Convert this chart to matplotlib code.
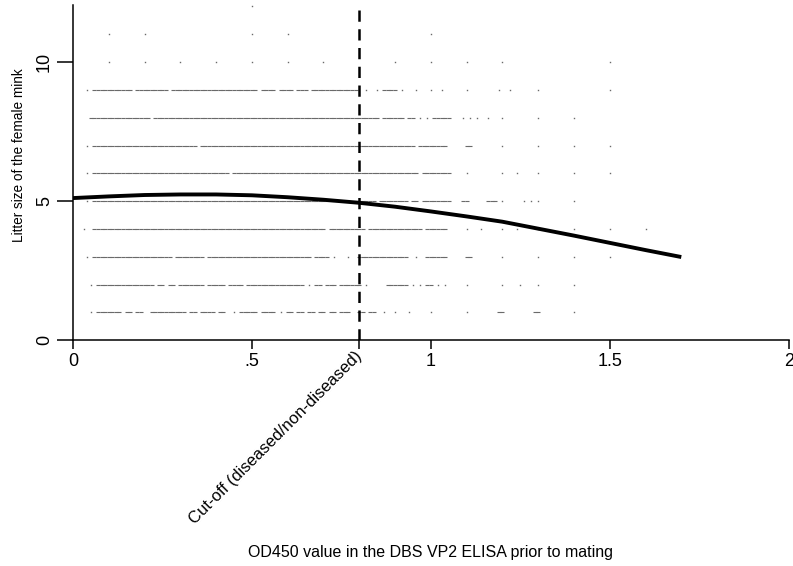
import numpy as np
import matplotlib
matplotlib.use("Agg")
import matplotlib.pyplot as plt

plt.rcParams['font.family'] = ['Liberation Sans', 'DejaVu Sans']

# observed litter sizes: for rows 1-9 each character marks an OD450 value
# (step 0.01, starting at 0.00) where at least one female was plotted
row_step = 0.01
rows = {
    9: "....#.#### #######.## #######.## ########## ########## ##.####.## ##.###.### ########## ..#..#.### #.#...#... #..#...... #........# ..#....... #......... .......... #.........",
    8: ".....##### ########## ##.####### ########## ########## ########## ########## ########## ######.### ###.##.#.# .#####...# .#.#..#... #......... #......... #.........",
    7: "....#.#### ########## ########## #####.#### ########## ########## ########## ########## ########## ######.### #####..... ##........ #......... #......... #......... #.........",
    6: "....#.#### ########## ########## ########## ####.##### ########## ########## ########## ########## #######.## ######.... #......... #...#..... #......... #......... #.........",
    5: "....#.#### ########## ########## ########## ########## ########## ########## ########## #####.#### ####.##.## ######...# #.....###. #.....#.#. #......... #.........",
    4: "...#..#### ########## ########## ########## ########## ########## ########## #.######## ##.####### ########.# #####..... #...#..... #...#..... #......... #......... #......... #.........",
    3: "....#.#### ########## ########.# #######.## ########## ########## #######.## ##.#...#.. ########## ####..#..# #####..... ##........ #......... #......... #......... #.........",
    2: ".....#.### ########## ###.##.##. #######.## ###.####.# ########## #####.#.## .###.##### #.#.....## ####.#.#.# #.#.#..... #......... #....#.... #......... #.........",
    1: ".....#.### ####.##.## ..######## ##.##.#### .##..#.### ##.####.#. ##.##.##.# #.##.###.. ##.##..#.. #...#..... #......... #........# #........# #......... #.........",
}
sparse_rows = {
    10: [0.10, 0.20, 0.30, 0.40, 0.50, 0.60, 0.70, 0.90, 1.00, 1.10, 1.20, 1.50],
    11: [0.10, 0.20, 0.50, 0.60, 1.00],
    12: [0.50],
}

# fitted litter size
fit_od = [0.0, 0.1, 0.2, 0.3, 0.4, 0.5, 0.6, 0.7, 0.8, 0.9,
          1.0, 1.1, 1.2, 1.3, 1.4, 1.5, 1.6, 1.7]
fit_litter = [5.11, 5.17, 5.22, 5.24, 5.24, 5.21, 5.14, 5.05, 4.94, 4.80,
              4.63, 4.45, 4.26, 4.01, 3.76, 3.50, 3.24, 2.99]

cutoff = 0.8
xtick_vals = [0, 0.5, cutoff, 1, 1.5, 2]
xtick_text = ['0', '.5', 'Cut-off (diseased/non-diseased)', '1', '1.5', '2']
ytick_vals = [0, 5, 10]
ytick_text = ['0', '5', '10']

# split points into runs (neighbours in the same row) and lone points
run_x, run_y, lone_x, lone_y = [], [], [], []
for size, marks in rows.items():
    marks = marks.replace(' ', '')
    for i, ch in enumerate(marks):
        if ch != '#':
            continue
        left = i > 0 and marks[i - 1] == '#'
        right = i + 1 < len(marks) and marks[i + 1] == '#'
        if left or right:
            run_x.append(i * row_step)
            run_y.append(size)
        else:
            lone_x.append(i * row_step)
            lone_y.append(size)
for size, xs in sparse_rows.items():
    lone_x.extend(xs)
    lone_y.extend([size] * len(xs))

fig = plt.figure(figsize=(7.93, 5.66), dpi=100)
ax = fig.add_axes([0.092, 0.399, 0.9025, 0.592])

ax.plot(run_x, run_y, linestyle='none', marker='_', markersize=2.7,
        markeredgewidth=0.8, color='#6a6a6a', zorder=1)
ax.plot(lone_x, lone_y, linestyle='none', marker='s', markersize=1.0,
        markeredgewidth=0, color='#6a6a6a', zorder=1)
ax.axvline(cutoff, color='black', linewidth=1.8, dashes=(4.5, 3), zorder=2)
ax.plot(fit_od, fit_litter, color='black', linewidth=2.8,
        solid_capstyle='butt', zorder=3)

ax.set_xlim(0, 2)
ax.set_ylim(0, 12.05)
for side in ['top', 'right']:
    ax.spines[side].set_visible(False)
for side in ['left', 'bottom']:
    ax.spines[side].set_linewidth(1.1)

ax.set_xticks(xtick_vals)
ax.set_xticklabels(xtick_text, fontsize=13)
ax.set_yticks(ytick_vals)
ax.set_yticklabels(ytick_text, fontsize=13, rotation=90, va='center')
ax.tick_params(axis='x', length=6.5, width=1.1, pad=3)
ax.tick_params(axis='y', length=11.5, width=1.1, pad=3)

lab = ax.get_xticklabels()[2]
lab.set_rotation(45)
lab.set_ha('right')
lab.set_va('center')
lab.set_rotation_mode('anchor')
lab.set_fontsize(12)

fig.text(431 / 793, 1 - 552 / 566, 'OD450 value in the DBS VP2 ELISA prior to mating',
         ha='center', va='center', fontsize=11.5)
fig.text(19 / 793, 1 - 155 / 566, 'Litter size of the female mink',
         ha='center', va='center', rotation=90, fontsize=9.8)

fig.savefig('out.png', dpi=100)
